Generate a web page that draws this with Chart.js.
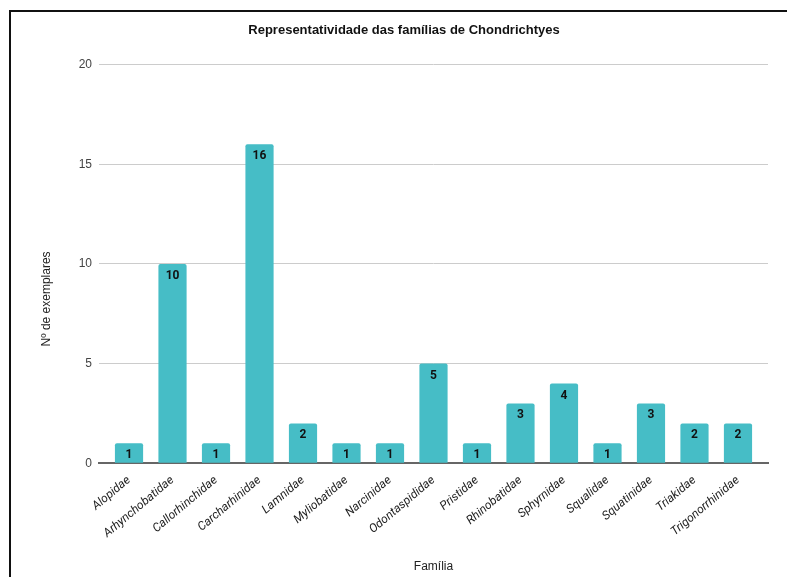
<!DOCTYPE html>
<html>
<head>
<meta charset="utf-8">
<script src="https://cdn.jsdelivr.net/npm/chart.js@4.4.1/dist/chart.umd.min.js"></script>
<style>
	html, body { margin: 0; padding: 0; background: #fff; }
	#wrap { position: relative; width: 787px; height: 577px; overflow: hidden; }
	#frame {
		position: absolute; left: 9px; top: 10px; width: 900px; height: 700px;
		border-left: 2px solid #111; border-top: 2px solid #111;
		pointer-events: none;
	}
</style>
</head>
<body>
<div id="wrap">
	<canvas id="familyChart" width="787" height="577"></canvas>
	<div id="frame"></div>
</div>
<script>
	// --- Data ---
	const families = [
		"Alopidae", "Arhynchobatidae", "Callorhinchidae", "Carcharhinidae",
		"Lamnidae", "Myliobatidae", "Narcinidae", "Odontaspididae",
		"Pristidae", "Rhinobatidae", "Sphyrnidae", "Squalidae",
		"Squatinidae", "Triakidae", "Trigonorrhinidae",
	];
	const specimens = [1, 10, 1, 16, 2, 1, 1, 5, 1, 3, 4, 1, 3, 2, 2];
	const yTicks = [0, 5, 10, 15, 20];
	const yTitle = "Nº de exemplares";

	// Draws each value just inside the top of its bar
	const barValueLabels = {
		id: "barValueLabels",
		afterDatasetsDraw(chart) {
			const { ctx } = chart;
			const meta = chart.getDatasetMeta(0);
			ctx.save();
			ctx.font = "bold 12px Roboto";
			ctx.fillStyle = "#111";
			ctx.textAlign = "center";
			ctx.textBaseline = "top";
			meta.data.forEach(function (bar, i) {
				ctx.fillText(String(specimens[i]), bar.x, bar.y + 6);
			});
			ctx.restore();
		},
	};

	// Vertical axis title, placed a little below the middle like the original
	const sideTitle = {
		id: "sideTitle",
		afterDraw(chart) {
			const { ctx, chartArea } = chart;
			ctx.save();
			ctx.translate(47, (chartArea.top + chartArea.bottom) / 2 + 35);
			ctx.rotate(-Math.PI / 2);
			ctx.font = "12px 'Liberation Sans', Arial";
			ctx.fillStyle = "#222";
			ctx.textAlign = "center";
			ctx.textBaseline = "middle";
			ctx.fillText(yTitle, 0, 0);
			ctx.restore();
		},
	};

	const ctx = document.getElementById("familyChart");
	new Chart(ctx, {
		type: "bar",
		data: {
			datasets: [
				{
					data: specimens.map((v, i) => ({ x: i, y: v })),
					backgroundColor: "#46bdc6",
					borderColor: "transparent",
					borderWidth: 0,
					borderRadius: 2,
					borderSkipped: "bottom",
					barPercentage: 0.72,
					categoryPercentage: 0.9,
				},
			],
		},
		options: {
			responsive: false,
			animation: false,
			layout: { padding: { left: 40, right: 19, top: 4, bottom: 2 } },
			plugins: {
				legend: { display: false },
				tooltip: { enabled: false },
				title: {
					display: true,
					text: "Representatividade das famílias de Chondrichtyes",
					color: "#111",
					font: { family: "Liberation Sans, Arial", size: 13, weight: "bold" },
					padding: { top: 19, bottom: 26 },
				},
			},
			scales: {
				y: {
					min: 0,
					max: 20,
					afterBuildTicks(axis) {
						axis.ticks = yTicks.map((v) => ({ value: v }));
					},
					afterFit(axis) {
						axis.width = 59;
					},
					ticks: {
						color: "#444",
						padding: 7,
						font: { family: "Liberation Sans, Arial", size: 12 },
					},
					grid: { color: "#cccccc", drawTicks: false },
					border: { display: false },
				},
				x: {
					type: "linear",
					offset: false,
					min: -0.69,
					max: 14.69,
					afterBuildTicks(axis) {
						axis.ticks = families.map((f, i) => ({ value: i }));
					},
					ticks: {
						color: "#222",
						autoSkip: false,
						minRotation: 40,
						maxRotation: 40,
						padding: 2,
						font: { family: "Roboto", size: 12, style: "italic" },
						callback: (value) => families[value],
					},
					grid: { display: false },
					border: { color: "#666", width: 2 },
					title: {
						display: true,
						text: "Família",
						color: "#222",
						font: { family: "Liberation Sans, Arial", size: 12 },
						padding: { top: 17, bottom: 1 },
					},
				},
			},
		},
		plugins: [barValueLabels, sideTitle],
	});
</script>
</body>
</html>
